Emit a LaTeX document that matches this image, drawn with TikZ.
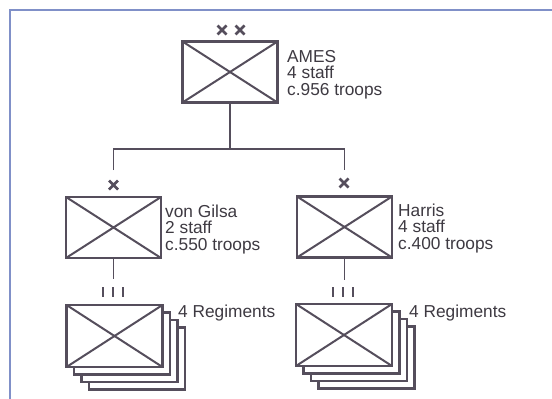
\documentclass[tikz,border=0pt]{standalone}
\usepackage{fontspec}
\setmainfont{Liberation Sans}
\definecolor{ink}{HTML}{554E5C}
\definecolor{txt}{HTML}{3E3A42}
\definecolor{framec}{HTML}{8090C8}
\begin{document}
\begin{tikzpicture}[x=1pt,y=-1pt,
 unitbox/.style={draw=ink,line width=2.2pt,fill=white,minimum width=95pt,minimum height=61pt,inner sep=0pt,
   path picture={\draw[ink,line width=2pt] (path picture bounding box.north west)--(path picture bounding box.south east) (path picture bounding box.north east)--(path picture bounding box.south west);}},
 regbox/.style={unitbox,minimum width=96pt,minimum height=62pt},
 backbox/.style={draw=ink,line width=2.2pt,fill=white,minimum width=96pt,minimum height=62pt,inner sep=0pt},
 conn/.style={draw=ink,line width=1.5pt},
 lbl/.style={font=\fontsize{17.3}{16.5}\selectfont,text=txt,align=left,inner sep=0pt,anchor=base west},
 xpic/.pic={\draw[ink,line width=2.6pt] (-4.5,-4.5)--(4.5,4.5) (-4.5,4.5)--(4.5,-4.5);},
 iiipic/.pic={\foreach \d in {-10,0,10} \draw[ink,line width=2.6pt] (\d,-5)--(\d,5);},
]
\useasboundingbox (0,0) rectangle (552,399);
\fill[white] (0,0) rectangle (552,399);
\draw[framec,line width=2pt] (9.5,399) -- (9.5,9.5) -- (552,9.5);

% top unit
\node[unitbox] (ames) at (230,72) {};
\pic at (222,30) {xpic};
\pic at (240,30) {xpic};
\node[lbl] (amesT) at (287,95) {AMES\\4 staff\\c.956 troops};

% brigades
\node[unitbox] (gilsa) at (113.5,227.5) {};
\node[unitbox] (harris) at (344.5,227) {};
\pic at (113.5,185) {xpic};
\pic at (344,183) {xpic};
\node[lbl] (gilsaT) at (165,250) {von Gilsa\\2 staff\\c.550 troops};
\node[lbl] (harrisT) at (398,249) {Harris\\4 staff\\c.400 troops};

\coordinate (j) at (230,149);
\coordinate (gt) at (113.5,170);
\coordinate (ht) at (344.5,170);
\draw[conn] (ames.south) -- (j);
\draw[conn] (gt) |- (j) -| (ht);

% regiments left
\coordinate (gb) at (113.5,279);
\draw[conn] (gilsa.south) -- (gb);
\pic at (113,292) {iiipic};
\node[backbox] (gr3) at (137,358.5) {};
\node[backbox] (gr2) at (129.5,351) {};
\node[backbox] (gr1) at (122,343.5) {};
\node[regbox] (gr0) at (114.5,336) {};
\node[lbl] (gRT) at (178,317) {4 Regiments};

% regiments right
\coordinate (hb) at (344.5,280);
\draw[conn] (harris.south) -- (hb);
\pic at (343,292) {iiipic};
\node[backbox] (hr3) at (366.5,357.5) {};
\node[backbox] (hr2) at (359,350) {};
\node[backbox] (hr1) at (351.5,342.5) {};
\node[regbox] (hr0) at (344,335) {};
\node[lbl] (hRT) at (409,317) {4 Regiments};
\end{tikzpicture}
\end{document}
